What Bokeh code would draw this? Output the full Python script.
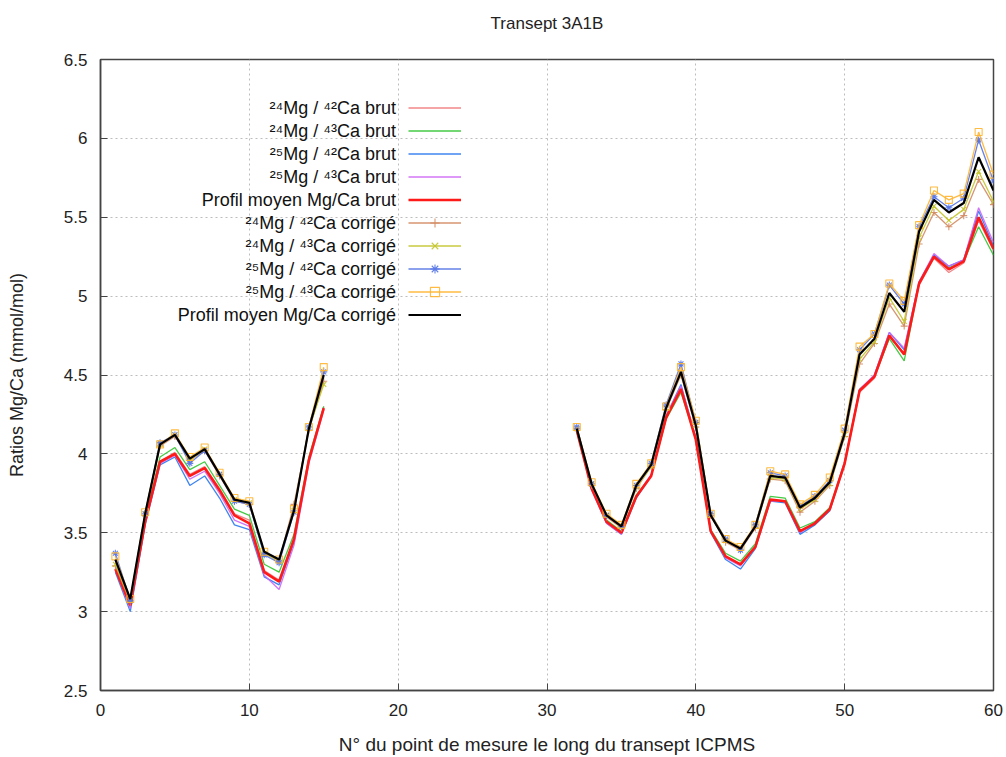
import math
from bokeh.plotting import figure
from bokeh.models import (ColumnDataSource, Legend, LegendItem, Label, FixedTicker, Range1d)
from bokeh.embed import file_html
from bokeh.resources import INLINE

# ---------------- data ----------------
x_points = list(range(1, 16)) + list(range(32, 61))

mg24_ca42_brut = [3.26, 3.03, 3.56, 3.95, 4.01, 3.87, 3.92, 3.78, 3.62, 3.58, 3.26, 3.20, 3.45, 3.97, 4.30,
                  4.15, 3.78, 3.57, 3.50, 3.73, 3.86, 4.22, 4.42, 4.09, 3.51, 3.35, 3.30, 3.41, 3.71, 3.70,
                  3.51, 3.55, 3.64, 3.93, 4.39, 4.48, 4.74, 4.64, 5.07, 5.24, 5.15, 5.21, 5.48, 5.29]
mg24_ca43_brut = [3.28, 3.05, 3.59, 3.98, 4.04, 3.90, 3.95, 3.80, 3.65, 3.61, 3.30, 3.25, 3.49, 3.98, 4.30,
                  4.14, 3.78, 3.58, 3.51, 3.74, 3.86, 4.22, 4.39, 4.09, 3.52, 3.37, 3.32, 3.43, 3.73, 3.72,
                  3.53, 3.57, 3.66, 3.95, 4.41, 4.49, 4.73, 4.59, 5.08, 5.25, 5.18, 5.22, 5.44, 5.26]
mg25_ca42_brut = [3.25, 3.00, 3.55, 3.93, 3.98, 3.80, 3.86, 3.72, 3.55, 3.52, 3.22, 3.17, 3.44, 3.96, 4.29,
                  4.16, 3.78, 3.56, 3.49, 3.72, 3.86, 4.24, 4.44, 4.10, 3.50, 3.33, 3.27, 3.40, 3.70, 3.69,
                  3.49, 3.55, 3.64, 3.94, 4.40, 4.50, 4.77, 4.66, 5.09, 5.26, 5.19, 5.23, 5.54, 5.32]
mg25_ca43_brut = [3.27, 3.02, 3.56, 3.94, 3.99, 3.84, 3.89, 3.75, 3.58, 3.54, 3.23, 3.14, 3.42, 3.94, 4.28,
                  4.15, 3.77, 3.56, 3.49, 3.73, 3.87, 4.24, 4.43, 4.10, 3.51, 3.34, 3.29, 3.41, 3.70, 3.70,
                  3.50, 3.56, 3.65, 3.95, 4.41, 4.50, 4.77, 4.67, 5.09, 5.27, 5.19, 5.23, 5.56, 5.34]
moyen_brut = [3.27, 3.04, 3.57, 3.95, 4.00, 3.86, 3.91, 3.77, 3.61, 3.56, 3.25, 3.19, 3.46, 3.96, 4.29,
              4.15, 3.78, 3.57, 3.50, 3.73, 3.86, 4.23, 4.41, 4.09, 3.51, 3.35, 3.30, 3.41, 3.71, 3.70,
              3.51, 3.56, 3.65, 3.94, 4.40, 4.49, 4.75, 4.63, 5.08, 5.25, 5.17, 5.22, 5.50, 5.30]
mg24_ca42_corr = [3.29, 3.06, 3.61, 4.05, 4.11, 3.96, 4.02, 3.86, 3.70, 3.68, 3.37, 3.32, 3.68, 4.15, 4.46,
                  4.16, 3.80, 3.60, 3.53, 3.78, 3.92, 4.28, 4.50, 4.17, 3.61, 3.44, 3.39, 3.53, 3.84, 3.83,
                  3.63, 3.70, 3.80, 4.11, 4.57, 4.70, 4.95, 4.81, 5.33, 5.53, 5.44, 5.51, 5.74, 5.58]
mg24_ca43_corr = [3.30, 3.07, 3.62, 4.06, 4.12, 3.96, 4.03, 3.87, 3.71, 3.69, 3.37, 3.32, 3.64, 4.16, 4.44,
                  4.16, 3.81, 3.61, 3.54, 3.79, 3.92, 4.29, 4.51, 4.18, 3.61, 3.45, 3.40, 3.54, 3.85, 3.84,
                  3.65, 3.71, 3.81, 4.12, 4.60, 4.71, 4.99, 4.84, 5.37, 5.57, 5.48, 5.55, 5.79, 5.60]
mg25_ca42_corr = [3.37, 3.07, 3.62, 4.07, 4.12, 3.94, 4.02, 3.87, 3.70, 3.68, 3.36, 3.31, 3.63, 4.17, 4.52,
                  4.17, 3.81, 3.61, 3.54, 3.80, 3.94, 4.31, 4.57, 4.20, 3.62, 3.46, 3.39, 3.55, 3.88, 3.86,
                  3.67, 3.73, 3.83, 4.15, 4.66, 4.76, 5.07, 4.95, 5.44, 5.63, 5.56, 5.62, 5.99, 5.73]
mg25_ca43_corr = [3.35, 3.08, 3.63, 4.06, 4.13, 3.98, 4.04, 3.88, 3.72, 3.70, 3.38, 3.33, 3.65, 4.17, 4.55,
                  4.17, 3.82, 3.62, 3.55, 3.81, 3.94, 4.30, 4.55, 4.21, 3.62, 3.46, 3.41, 3.55, 3.89, 3.87,
                  3.68, 3.74, 3.85, 4.16, 4.68, 4.76, 5.08, 4.97, 5.45, 5.67, 5.61, 5.65, 6.04, 5.77]
moyen_corr = [3.33, 3.08, 3.62, 4.06, 4.12, 3.97, 4.03, 3.87, 3.71, 3.69, 3.38, 3.33, 3.64, 4.16, 4.50,
              4.16, 3.81, 3.61, 3.54, 3.80, 3.93, 4.29, 4.52, 4.18, 3.61, 3.45, 3.40, 3.54, 3.86, 3.85,
              3.66, 3.72, 3.82, 4.13, 4.63, 4.73, 5.02, 4.90, 5.41, 5.61, 5.53, 5.59, 5.88, 5.67]

series_labels = [
    "²⁴Mg / ⁴²Ca brut",
    "²⁴Mg / ⁴³Ca brut",
    "²⁵Mg / ⁴²Ca brut",
    "²⁵Mg / ⁴³Ca brut",
    "Profil moyen Mg/Ca brut",
    "²⁴Mg / ⁴²Ca corrigé",
    "²⁴Mg / ⁴³Ca corrigé",
    "²⁵Mg / ⁴²Ca corrigé",
    "²⁵Mg / ⁴³Ca corrigé",
    "Profil moyen Mg/Ca corrigé",
]
series_values = [mg24_ca42_brut, mg24_ca43_brut, mg25_ca42_brut, mg25_ca43_brut, moyen_brut,
                 mg24_ca42_corr, mg24_ca43_corr, mg25_ca42_corr, mg25_ca43_corr, moyen_corr]

title_text = "Transept 3A1B"
x_ticks = [0, 10, 20, 30, 40, 50, 60]
y_ticks = [2.5, 3, 3.5, 4, 4.5, 5, 5.5, 6, 6.5]
y_tick_labels = ["2.5", "3", "3.5", "4", "4.5", "5", "5.5", "6", "6.5"]

# ---------------- styles ----------------
styles = [
    dict(color="#f07a7a", width=1.3, alpha=0.9, marker=None),
    dict(color="#30c430", width=1.3, alpha=0.9, marker=None),
    dict(color="#2a78f0", width=1.3, alpha=0.9, marker=None),
    dict(color="#cc66f5", width=1.3, alpha=0.9, marker=None),
    dict(color="#ff1a1a", width=2.6, alpha=1.0, marker=None),
    dict(color="#d38a60", width=1.3, alpha=0.9, marker="cross"),
    dict(color="#c4c42a", width=1.3, alpha=0.9, marker="x"),
    dict(color="#5574e6", width=1.3, alpha=0.9, marker="asterisk"),
    dict(color="#ffb42e", width=1.3, alpha=0.9, marker="square"),
    dict(color="#000000", width=2.2, alpha=1.0, marker=None),
]

FONT = "Liberation Sans"
FRAME_W, FRAME_H = 893, 631
X0, X1, Y0, Y1 = 0, 60, 2.5, 6.5

# trailing newline gives the title panel a second (empty) line, lifting the title
# to gnuplot's position without enlarging the top border
p = figure(width=1004, height=755, output_backend="svg", toolbar_location=None,
           x_range=Range1d(X0, X1), y_range=Range1d(Y0, Y1),
           frame_width=FRAME_W, frame_height=FRAME_H,
           min_border_left=100, min_border_right=11, min_border_top=59, min_border_bottom=65,
           title=title_text + "\n")

p.title.align = "center"
p.title.vertical_align = "top"
p.title.text_font = FONT
p.title.text_font_size = "17px"
p.title.text_font_style = "normal"
p.title.text_color = "#222222"
p.title.standoff = 12

p.outline_line_color = "#444444"
p.outline_line_width = 1.5
p.background_fill_color = "white"
p.border_fill_color = "white"

p.xaxis.ticker = FixedTicker(ticks=x_ticks)
p.yaxis.ticker = FixedTicker(ticks=y_ticks)
p.yaxis.major_label_overrides = {t: l for t, l in zip(y_ticks, y_tick_labels)}
for ax in (p.xaxis[0], p.yaxis[0]):
    ax.major_label_text_font = FONT
    ax.major_label_text_font_size = "17px"
    ax.major_label_text_color = "#222222"
    ax.axis_label_text_font = FONT
    ax.axis_label_text_font_style = "normal"
    ax.axis_label_text_color = "#222222"
    ax.major_tick_out = 0
    ax.major_tick_in = 7
    ax.major_tick_line_color = "#444444"
    ax.minor_tick_line_color = None
    ax.axis_line_color = "#444444"
    ax.axis_line_width = 1.5
    ax.major_label_standoff = 13

p.xaxis.axis_label = "N° du point de mesure le long du transept ICPMS"
p.xaxis.axis_label_text_font_size = "19px"
p.xaxis.axis_label_standoff = 15
p.yaxis.axis_label = "Ratios Mg/Ca (mmol/mol)"
p.yaxis.axis_label_text_font_size = "18px"
p.yaxis.axis_label_standoff = 34

p.grid.grid_line_color = "#bdbdbd"
p.grid.grid_line_dash = "2 3"
p.grid.grid_line_width = 1

px_per_y = FRAME_H / (Y1 - Y0)

# ---------------- glyphs ----------------
BREAK = 15
xs = x_points[:BREAK] + [math.nan] + x_points[BREAK:]

legend_items = []
for lbl, vals, st in zip(series_labels, series_values, styles):
    ys = vals[:BREAK] + [math.nan] + vals[BREAK:]
    src = ColumnDataSource(dict(x=xs, y=ys))
    rl = p.line("x", "y", source=src, line_color=st["color"], line_width=st["width"],
                line_alpha=st["alpha"])
    rends = [rl]
    if st["marker"]:
        rs = p.scatter("x", "y", source=src, marker=st["marker"], size=7,
                       line_color=st["color"], fill_color=None, line_width=1.1, line_alpha=0.9)
        rends.append(rs)
    legend_items.append(LegendItem(label="", renderers=rends))

# ---------------- legend (gnuplot style: text right-aligned, sample to the right) ----------------
ROW = 23
TOP_OFF = 48.5        # px below frame top of first row centre
TEXT_RIGHT_X = 19.85  # data x of text right edge
SAMPLE_LEFT = 308     # px from frame left

legend = Legend(items=legend_items,
                location=(SAMPLE_LEFT, FRAME_H - (TOP_OFF - ROW / 2) - ROW * len(legend_items)),
                padding=0, margin=0, spacing=0, glyph_width=53, glyph_height=ROW,
                label_height=ROW, label_width=0, label_standoff=0,
                label_text_font_size="8px", border_line_alpha=0, background_fill_alpha=0)
p.add_layout(legend, "center")

for i, lbl in enumerate(series_labels):
    y_data = Y1 - (TOP_OFF + ROW * i) / px_per_y
    p.add_layout(Label(x=TEXT_RIGHT_X, y=y_data, text=lbl, text_align="right",
                       text_baseline="middle", text_font=FONT, text_font_size="18px",
                       text_color="#111111"))

open("out.html", "w").write(file_html(p, INLINE, title_text))
